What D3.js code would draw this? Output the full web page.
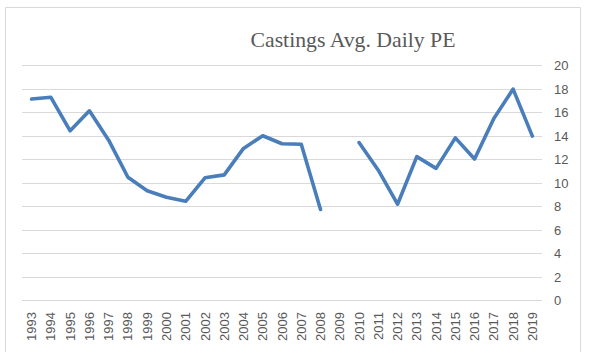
<!DOCTYPE html>
<html><head><meta charset="utf-8">
<script src="https://cdn.jsdelivr.net/npm/d3@7"></script>
<style>body{margin:0;background:#fff}</style>
</head><body>
<script>
const years = ["1993","1994","1995","1996","1997","1998","1999","2000","2001","2002","2003","2004","2005","2006","2007","2008","2009","2010","2011","2012","2013","2014","2015","2016","2017","2018","2019"];
const peValues = [17.1,17.25,14.4,16.1,13.6,10.45,9.3,8.75,8.4,10.4,10.65,12.9,13.98,13.3,13.25,7.7,null,13.4,11.05,8.15,12.2,11.2,13.8,12.0,15.45,17.95,13.95];
const yTicks = [0,2,4,6,8,10,12,14,16,18,20];
const title = "Castings Avg. Daily PE";

const W = 603, H = 356;
const svg = d3.select("body").append("svg").attr("width", W).attr("height", H);
const grey = "#595959";

// chart border (left, top, right)
svg.append("path").attr("d", "M5.5,352 L5.5,7.5 L580.5,7.5 L580.5,352")
  .attr("fill", "none").attr("stroke", "#d9d9d9").attr("stroke-width", 1);

const x = d3.scaleBand().domain(years).range([22, 542]);
const y = d3.scaleLinear().domain([0, 20]).range([300, 65]);

// gridlines
svg.append("g").selectAll("line").data(yTicks).join("line")
  .attr("x1", 22).attr("x2", 542)
  .attr("y1", d => Math.round(y(d)) + 0.5).attr("y2", d => Math.round(y(d)) + 0.5)
  .attr("stroke", "#d9d9d9").attr("stroke-width", 1);

// y axis labels (right side)
const yAxis = d3.axisRight(y).tickValues(yTicks).tickSize(0).tickPadding(0);
const gy = svg.append("g").attr("transform", "translate(554,0)").call(yAxis);
gy.select(".domain").remove();
gy.selectAll("text").attr("fill", grey).attr("font-family", "Liberation Sans, Arial, sans-serif")
  .attr("font-size", "13px").attr("dy", "0.35em").attr("x", 0);

// x axis labels
const xAxis = d3.axisBottom(x).tickSize(0).tickPadding(0);
const gx = svg.append("g").attr("transform", "translate(0,300)").call(xAxis);
gx.select(".domain").remove();
gx.selectAll("text")
  .attr("fill", grey).attr("font-family", "Liberation Sans, Arial, sans-serif").attr("font-size", "13px")
  .attr("text-anchor", "end").attr("y", 0).attr("dy", "0.35em")
  .attr("transform", "translate(0,12) rotate(-90)");

// line
const data = years.map((yr, i) => ({yr, v: peValues[i]}));
const line = d3.line().defined(d => d.v != null)
  .x(d => x(d.yr) + x.bandwidth() / 2).y(d => y(d.v));
svg.append("path").datum(data).attr("d", line)
  .attr("fill", "none").attr("stroke", "#4a7ebb").attr("stroke-width", 3.6)
  .attr("stroke-linejoin", "round").attr("stroke-linecap", "round");

// title
svg.append("text").attr("x", 353).attr("y", 47).attr("text-anchor", "middle")
  .attr("fill", grey).attr("font-family", "Liberation Serif, Times New Roman, serif")
  .attr("font-size", "21px").attr("textLength", 205).attr("lengthAdjust", "spacingAndGlyphs")
  .text(title);
</script>
</body></html>
